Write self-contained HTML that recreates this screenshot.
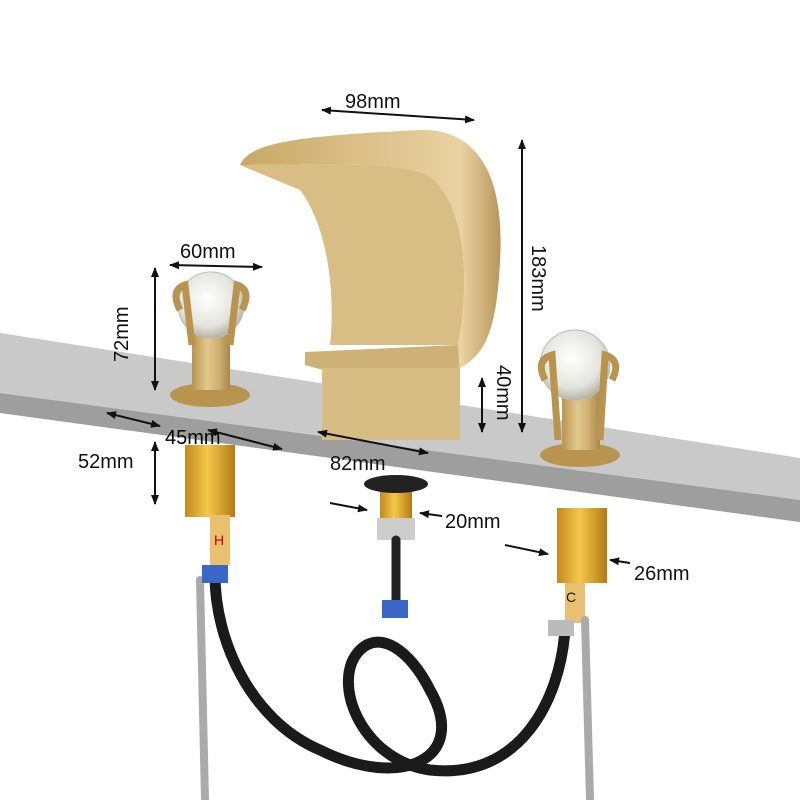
<!DOCTYPE html>
<html><head><style>
html,body{margin:0;padding:0;background:#fff;}
svg{display:block}
text{font-family:"Liberation Sans",sans-serif;fill:#111;}
</style></head><body>
<svg width="800" height="800" viewBox="0 0 800 800" xmlns="http://www.w3.org/2000/svg">
<defs>
<linearGradient id="gold" x1="0" x2="1" y1="0" y2="0">
<stop offset="0" stop-color="#b8944f"/><stop offset="0.4" stop-color="#e2c88e"/><stop offset="0.7" stop-color="#d0b070"/><stop offset="1" stop-color="#a8884a"/>
</linearGradient>
<linearGradient id="sp" x1="0" x2="1" y1="0" y2="0">
<stop offset="0" stop-color="#c9a866"/><stop offset="0.5" stop-color="#dcc18a"/><stop offset="0.85" stop-color="#e8d3a2"/><stop offset="1" stop-color="#b8955a"/>
</linearGradient>
<linearGradient id="brass" x1="0" x2="1"><stop offset="0" stop-color="#c48a1c"/><stop offset="0.45" stop-color="#f3c84a"/><stop offset="1" stop-color="#b47a14"/></linearGradient>
<radialGradient id="crys" cx="0.45" cy="0.4" r="0.6"><stop offset="0" stop-color="#ffffff"/><stop offset="0.7" stop-color="#e4e4de"/><stop offset="1" stop-color="#b8b4a4"/></radialGradient>
<marker id="ah" markerWidth="10" markerHeight="10" refX="9" refY="5" orient="auto-start-reverse" markerUnits="userSpaceOnUse"><path d="M0,1 L10,5 L0,9 Z" fill="#111"/></marker>
</defs>
<polygon points="0,333 800,458 800,500 0,393" fill="#c9c9c9"/>
<polygon points="0,393 800,500 800,522 0,413" fill="#9e9e9e"/>
<rect x="185" y="445" width="50" height="72" fill="url(#brass)"/>
<rect x="557" y="508" width="50" height="75" fill="url(#brass)"/>
<rect x="380" y="490" width="32" height="30" fill="url(#brass)"/>
<ellipse cx="396" cy="484" rx="32" ry="9" fill="#222"/>
<rect x="377" y="518" width="38" height="22" fill="#ccc"/>
<rect x="210" y="515" width="20" height="50" fill="#e8c070"/>
<text x="214" y="545" font-size="14" style="fill:#c00">H</text>
<rect x="565" y="583" width="20" height="40" fill="#e8c070"/>
<text x="566" y="602" font-size="14">C</text>
<g fill="none" stroke-linecap="round">
<path d="M396,540 L396,600" stroke="#222" stroke-width="9"/>
<path d="M215,575 C215,640 250,720 320,750 C400,790 470,760 430,690 C410,650 380,630 360,650 C330,680 360,760 430,770 C520,780 560,700 565,630" stroke="#1a1a1a" stroke-width="11"/>
<path d="M200,580 L205,800" stroke="#aaa" stroke-width="8"/>
<path d="M585,620 L590,800" stroke="#aaa" stroke-width="8"/>
</g>
<rect x="202" y="565" width="26" height="18" fill="#3a66c8"/>
<rect x="382" y="600" width="26" height="18" fill="#3a66c8"/>
<rect x="548" y="620" width="26" height="16" fill="#bbb"/>
<path d="M240,165 C250,142 300,136 420,130 C480,128 505,180 500,260 C497,330 485,355 460,368 L458,345 C472,270 462,205 432,178 C412,162 340,164 240,165 Z" fill="url(#sp)"/>
<path d="M240,165 C340,164 412,162 432,178 C462,205 472,270 458,345 L330,345 C335,300 330,230 300,190 Z" fill="#d8bd84"/>
<polygon points="305,352 458,345 460,372 330,372 305,365" fill="#cdb176"/>
<rect x="322" y="368" width="138" height="72" fill="#d7bd83"/>
<ellipse cx="210" cy="395" rx="40" ry="12" fill="#b8944f"/>
<rect x="192" y="330" width="38" height="60" fill="url(#gold)"/>
<circle cx="211" cy="305" r="33" fill="url(#crys)" stroke="#bbb"/>
<path d="M180,310 Q170,290 185,285 L192,345" fill="none" stroke="#b8944f" stroke-width="7"/>
<path d="M242,310 Q252,290 237,285 L230,345" fill="none" stroke="#b8944f" stroke-width="7"/>
<ellipse cx="580" cy="455" rx="40" ry="12" fill="#b8944f"/>
<rect x="562" y="385" width="38" height="65" fill="url(#gold)"/>
<circle cx="575" cy="365" r="35" fill="url(#crys)" stroke="#bbb"/>
<path d="M545,380 Q535,360 552,355 L558,440" fill="none" stroke="#b8944f" stroke-width="7"/>
<path d="M612,380 Q622,360 605,355 L600,440" fill="none" stroke="#b8944f" stroke-width="7"/>
<g stroke="#111" stroke-width="2" fill="none">
<line x1="322" y1="110" x2="474" y2="120" marker-start="url(#ah)" marker-end="url(#ah)"/>
<line x1="522" y1="140" x2="522" y2="432" marker-start="url(#ah)" marker-end="url(#ah)"/>
<line x1="170" y1="265" x2="262" y2="267" marker-start="url(#ah)" marker-end="url(#ah)"/>
<line x1="155" y1="268" x2="155" y2="390" marker-start="url(#ah)" marker-end="url(#ah)"/>
<line x1="482" y1="378" x2="482" y2="432" marker-start="url(#ah)" marker-end="url(#ah)"/>
<line x1="107" y1="413" x2="160" y2="426" marker-start="url(#ah)" marker-end="url(#ah)"/>
<line x1="208" y1="430" x2="282" y2="449" marker-start="url(#ah)" marker-end="url(#ah)"/>
<line x1="318" y1="432" x2="428" y2="453" marker-start="url(#ah)" marker-end="url(#ah)"/>
<line x1="155" y1="442" x2="155" y2="504" marker-start="url(#ah)" marker-end="url(#ah)"/>
<line x1="330" y1="503" x2="367" y2="510" marker-end="url(#ah)"/>
<line x1="442" y1="516" x2="420" y2="513" marker-end="url(#ah)"/>
<line x1="505" y1="545" x2="548" y2="554" marker-end="url(#ah)"/>
<line x1="630" y1="563" x2="610" y2="560" marker-end="url(#ah)"/>
</g>
<g font-size="20">
<text x="345" y="108">98mm</text>
<text x="180" y="258">60mm</text>
<text x="165" y="444" style="fill:#000">45mm</text>
<text x="330" y="470">82mm</text>
<text x="78" y="468">52mm</text>
<text x="445" y="528">20mm</text>
<text x="634" y="580">26mm</text>
<text transform="translate(532,245) rotate(90)">183mm</text>
<text transform="translate(497,365) rotate(90)">40mm</text>
<text transform="translate(128,362) rotate(-90)">72mm</text>
</g>
</svg>
</body></html>
